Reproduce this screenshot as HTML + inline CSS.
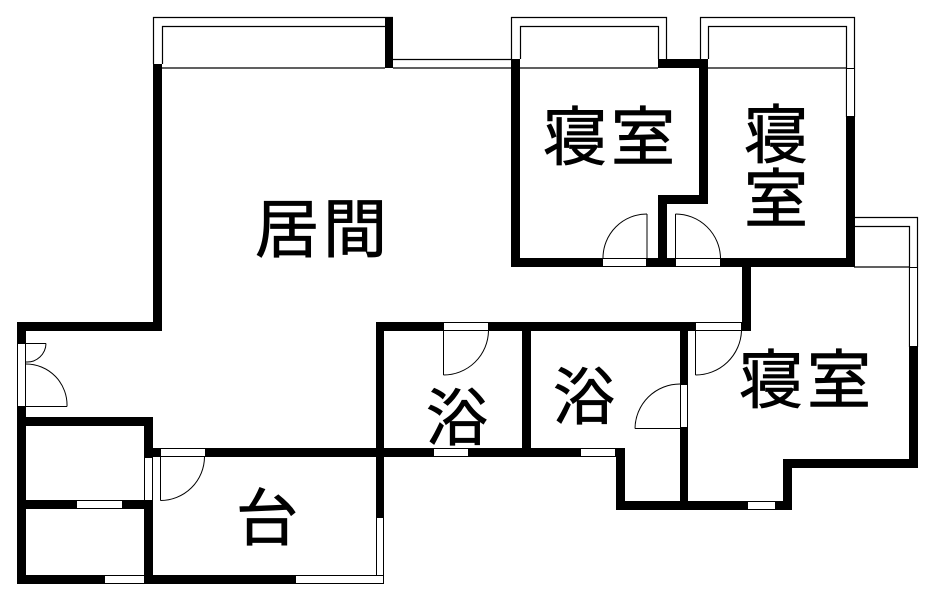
<!DOCTYPE html>
<html><head><meta charset="utf-8"><style>
html,body{margin:0;padding:0;background:#fff;}
svg{display:block;}
text{font-family:"Liberation Sans","Noto Sans CJK JP",sans-serif;fill:#000;stroke:#000;stroke-width:0.8;}
</style></head><body>
<svg width="944" height="602" viewBox="0 0 944 602" xmlns="http://www.w3.org/2000/svg">
<g fill="none" stroke="#000" stroke-width="1.2">
<polyline points="153.5,64 153.5,17.5 393,17.5"/>
<polyline points="162.5,64 162.5,26.5 385,26.5"/>
<line x1="162" y1="68" x2="385" y2="68"/>
<line x1="393" y1="59.5" x2="511" y2="59.5"/>
<line x1="393" y1="68" x2="511" y2="68"/>
<polyline points="511.5,59 511.5,17.5 666.5,17.5 666.5,59"/>
<polyline points="520.5,59 520.5,26.5 658.5,26.5 658.5,59"/>
<line x1="520" y1="68" x2="658" y2="68"/>
<polyline points="700.5,59 700.5,17.5 854.5,17.5 854.5,117"/>
<polyline points="708.5,59 708.5,26.5 846.5,26.5 846.5,117"/>
<line x1="708" y1="68" x2="846" y2="68"/>
<polyline points="854,217.5 917.5,217.5 917.5,347"/>
<polyline points="854,226.5 909.5,226.5 909.5,347"/>
<line x1="854" y1="267" x2="909" y2="267"/>
</g>
<g fill="#000">
<rect x="153" y="64" width="9" height="267"/>
<rect x="385" y="17" width="8" height="51"/>
<rect x="511" y="59" width="9" height="208"/>
<rect x="658" y="59" width="50" height="9"/>
<rect x="699" y="59" width="9" height="145"/>
<rect x="658" y="195" width="50" height="9"/>
<rect x="658" y="195" width="9" height="72"/>
<rect x="511" y="258" width="343" height="9"/>
<rect x="846" y="117" width="9" height="150"/>
<rect x="742" y="258" width="9" height="73"/>
<rect x="376" y="322" width="375" height="9"/>
<rect x="909" y="347" width="9" height="121"/>
<rect x="783" y="459" width="135" height="9"/>
<rect x="783" y="459" width="9" height="51"/>
<rect x="616" y="501" width="176" height="9"/>
<rect x="680" y="322" width="8" height="188"/>
<rect x="522" y="322" width="9" height="126"/>
<rect x="144" y="448" width="481" height="9"/>
<rect x="616" y="448" width="9" height="62"/>
<rect x="376" y="322" width="8" height="195"/>
<rect x="17" y="322" width="145" height="9"/>
<rect x="17" y="322" width="9" height="262"/>
<rect x="17" y="417" width="136" height="9"/>
<rect x="144" y="417" width="9" height="167"/>
<rect x="17" y="500" width="136" height="9"/>
<rect x="17" y="575" width="366" height="9"/>
</g>
<g fill="#fff" stroke="#000" stroke-width="1">
<rect x="602.5" y="258.5" width="44" height="8"/>
<rect x="675.5" y="258.5" width="45" height="8"/>
<rect x="846.5" y="68.5" width="8" height="48"/>
<rect x="909.5" y="267.5" width="8" height="79"/>
<rect x="443.5" y="322.5" width="45" height="8"/>
<rect x="695.5" y="322.5" width="46" height="8"/>
<rect x="747.5" y="501.5" width="28" height="8"/>
<rect x="680.5" y="384.5" width="7" height="43"/>
<rect x="580.5" y="448.5" width="35" height="8"/>
<rect x="433.5" y="448.5" width="35" height="8"/>
<rect x="160.5" y="448.5" width="45" height="8"/>
<rect x="144.5" y="457.5" width="8" height="43"/>
<rect x="376.5" y="517.5" width="7" height="66"/>
<rect x="17.5" y="343.5" width="8" height="63"/>
<rect x="76.5" y="500.5" width="46" height="8"/>
<rect x="104.5" y="575.5" width="40" height="8"/>
<rect x="295.5" y="575.5" width="88" height="8"/>
</g>
<g fill="none" stroke="#000" stroke-width="1">
<line x1="647" y1="214" x2="647" y2="258"/><path d="M647 214 A44 44 0 0 0 603 258"/>
<line x1="675.5" y1="214" x2="675.5" y2="258"/><path d="M675.5 214 A45 45 0 0 1 720.5 258"/>
<line x1="443.5" y1="331" x2="443.5" y2="375"/><path d="M443.5 375 A45 45 0 0 0 488.5 331"/>
<line x1="695.5" y1="331" x2="695.5" y2="375"/><path d="M695.5 375 A46 46 0 0 0 741.5 331"/>
<line x1="635" y1="428.5" x2="680" y2="428.5"/><path d="M635 428.5 A45 45 0 0 1 680 384"/>
<line x1="160.5" y1="457" x2="160.5" y2="500.5"/><path d="M160.5 500.5 A44 44 0 0 0 204.5 457"/>
<line x1="26" y1="343.5" x2="46" y2="343.5"/><path d="M46 343.5 A19 19 0 0 1 26 362"/>
<line x1="26" y1="406.5" x2="67" y2="406.5"/><path d="M67 406.5 A41 41 0 0 0 26 364"/>
</g>
<text x="255" y="252" font-size="64" letter-spacing="4">居間</text>
<text x="543" y="160" font-size="64" letter-spacing="4">寝室</text>
<text x="744" y="158" font-size="64">寝</text>
<text x="744" y="222" font-size="64">室</text>
<text x="426" y="440" font-size="62">浴</text>
<text x="553" y="419" font-size="62">浴</text>
<text x="739" y="403" font-size="64" letter-spacing="4">寝室</text>
<text x="236" y="540" font-size="62">台</text>
</svg>
</body></html>
